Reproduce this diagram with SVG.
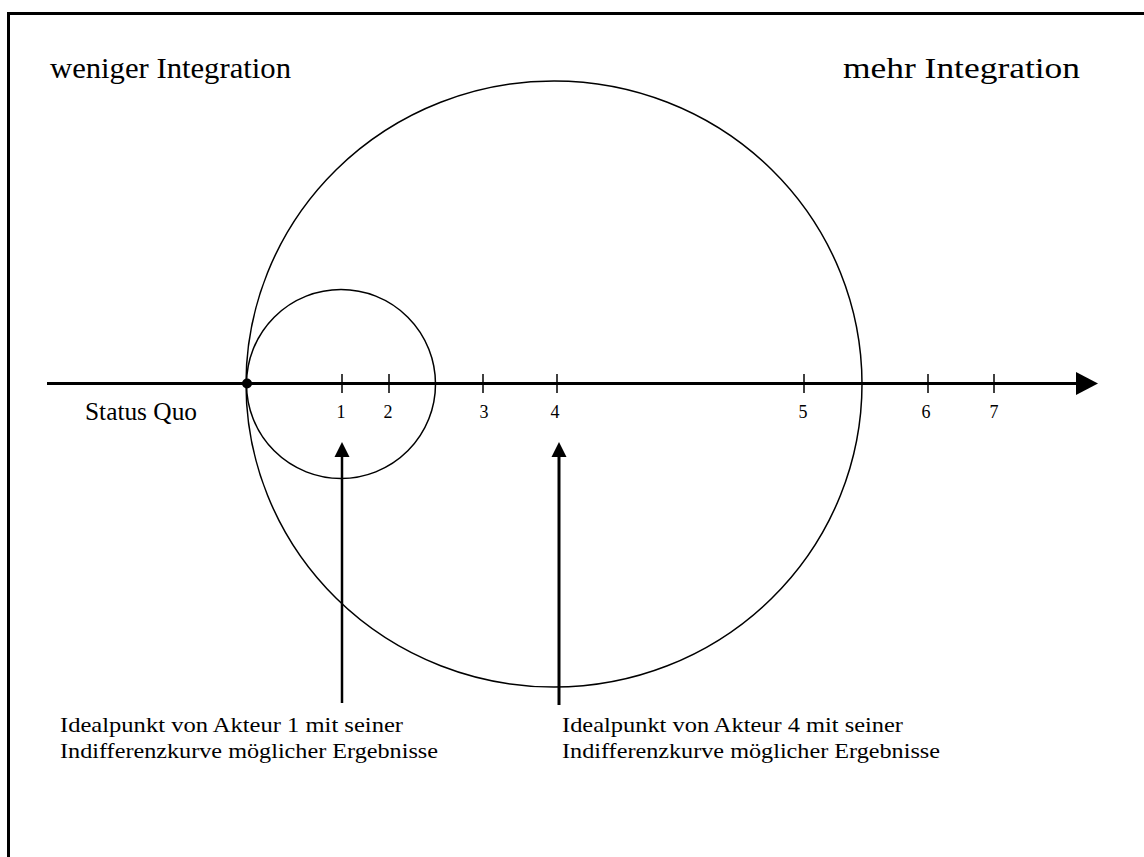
<svg xmlns="http://www.w3.org/2000/svg" width="1144" height="857" viewBox="0 0 1144 857">
<defs>
<style>
.t{font-family:"Liberation Serif","Times New Roman",serif;fill:#000}
.big{font-size:30px}
.sq{font-size:25px}
.num{font-size:18px;text-anchor:middle}
.lab{font-size:21px}
.curve{fill:none;stroke:#000;stroke-width:1.5}
.tick{stroke:#000;stroke-width:1.5}
</style>
</defs>
<rect width="1144" height="857" fill="#fff"/>
<path d="M8.5,857 V13.5 H1144" fill="none" stroke="#000" stroke-width="3"/>
<g id="connectors">
<line x1="47" y1="383.5" x2="1076" y2="383.5" stroke="#000" stroke-width="3"/>
<path d="M1076,372 L1098,383.5 L1076,395 Z" fill="#000"/>
<line x1="342" y1="703" x2="342" y2="456" stroke="#000" stroke-width="2.5"/>
<path d="M334.5,457 L342,442 L349.5,457 Z" fill="#000"/>
<line x1="559" y1="705" x2="559" y2="456" stroke="#000" stroke-width="3"/>
<path d="M551.5,457 L559,442 L566.5,457 Z" fill="#000"/>
</g>
<g id="circles">
<ellipse class="curve" cx="554" cy="384" rx="308" ry="303"/>
<ellipse class="curve" cx="341" cy="384" rx="94.5" ry="94.5"/>
</g>
<g id="status-quo">
<circle cx="247" cy="383.5" r="5" fill="#000"/>
<text class="t sq" x="85" y="420" textLength="112" lengthAdjust="spacingAndGlyphs">Status Quo</text>
</g>
<g id="ticks">
<line class="tick" x1="342" y1="374" x2="342" y2="393"/>
<line class="tick" x1="389" y1="374" x2="389" y2="393"/>
<line class="tick" x1="483" y1="374" x2="483" y2="393"/>
<line class="tick" x1="557" y1="374" x2="557" y2="393"/>
<line class="tick" x1="804" y1="374" x2="804" y2="393"/>
<line class="tick" x1="928" y1="374" x2="928" y2="393"/>
<line class="tick" x1="994" y1="374" x2="994" y2="393"/>
<text class="t num" x="341" y="418">1</text>
<text class="t num" x="388" y="418">2</text>
<text class="t num" x="484" y="418">3</text>
<text class="t num" x="555" y="418">4</text>
<text class="t num" x="803" y="418">5</text>
<text class="t num" x="926" y="418">6</text>
<text class="t num" x="994" y="418">7</text>
</g>
<g id="titles">
<text class="t big" x="50" y="78" textLength="241" lengthAdjust="spacingAndGlyphs">weniger Integration</text>
<text class="t big" x="843" y="78" textLength="237" lengthAdjust="spacingAndGlyphs">mehr Integration</text>
</g>
<g id="label-1">
<text class="t lab" x="60" y="732" textLength="343" lengthAdjust="spacingAndGlyphs">Idealpunkt von Akteur 1 mit seiner</text>
<text class="t lab" x="60" y="758" textLength="378" lengthAdjust="spacingAndGlyphs">Indifferenzkurve möglicher Ergebnisse</text>
</g>
<g id="label-4">
<text class="t lab" x="562" y="732" textLength="341" lengthAdjust="spacingAndGlyphs">Idealpunkt von Akteur 4 mit seiner</text>
<text class="t lab" x="562" y="758" textLength="378" lengthAdjust="spacingAndGlyphs">Indifferenzkurve möglicher Ergebnisse</text>
</g>
</svg>
